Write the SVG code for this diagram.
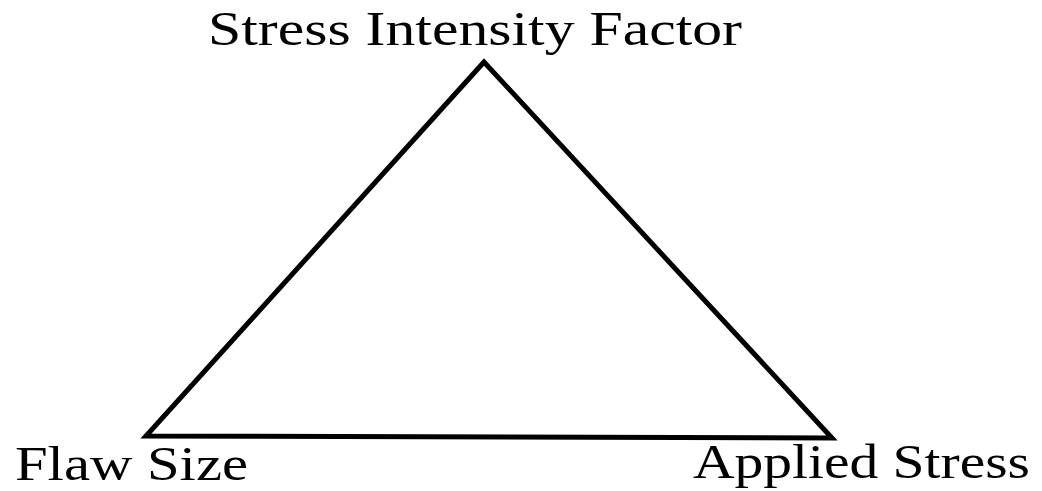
<svg xmlns="http://www.w3.org/2000/svg" width="1042" height="491" viewBox="0 0 1042 491">
<style>
.lbl{font-family:"Liberation Serif","Times New Roman",serif;font-size:49px;fill:#000}
.edge{fill:none;stroke:#000;stroke-width:5;stroke-linejoin:miter}
</style>
<rect width="1042" height="491" fill="#fff"/>
<g id="connectors">
<polygon class="edge" points="484,62 146,436 832,438"/>
</g>
<g id="node-sif"><text class="lbl" x="208" y="45" textLength="534" lengthAdjust="spacingAndGlyphs">Stress Intensity Factor</text></g>
<g id="node-flaw"><text class="lbl" x="15" y="480" font-size="47" textLength="233" lengthAdjust="spacingAndGlyphs">Flaw Size</text></g>
<g id="node-stress"><text class="lbl" x="693" y="478" textLength="337" lengthAdjust="spacingAndGlyphs">Applied Stress</text></g>
</svg>
